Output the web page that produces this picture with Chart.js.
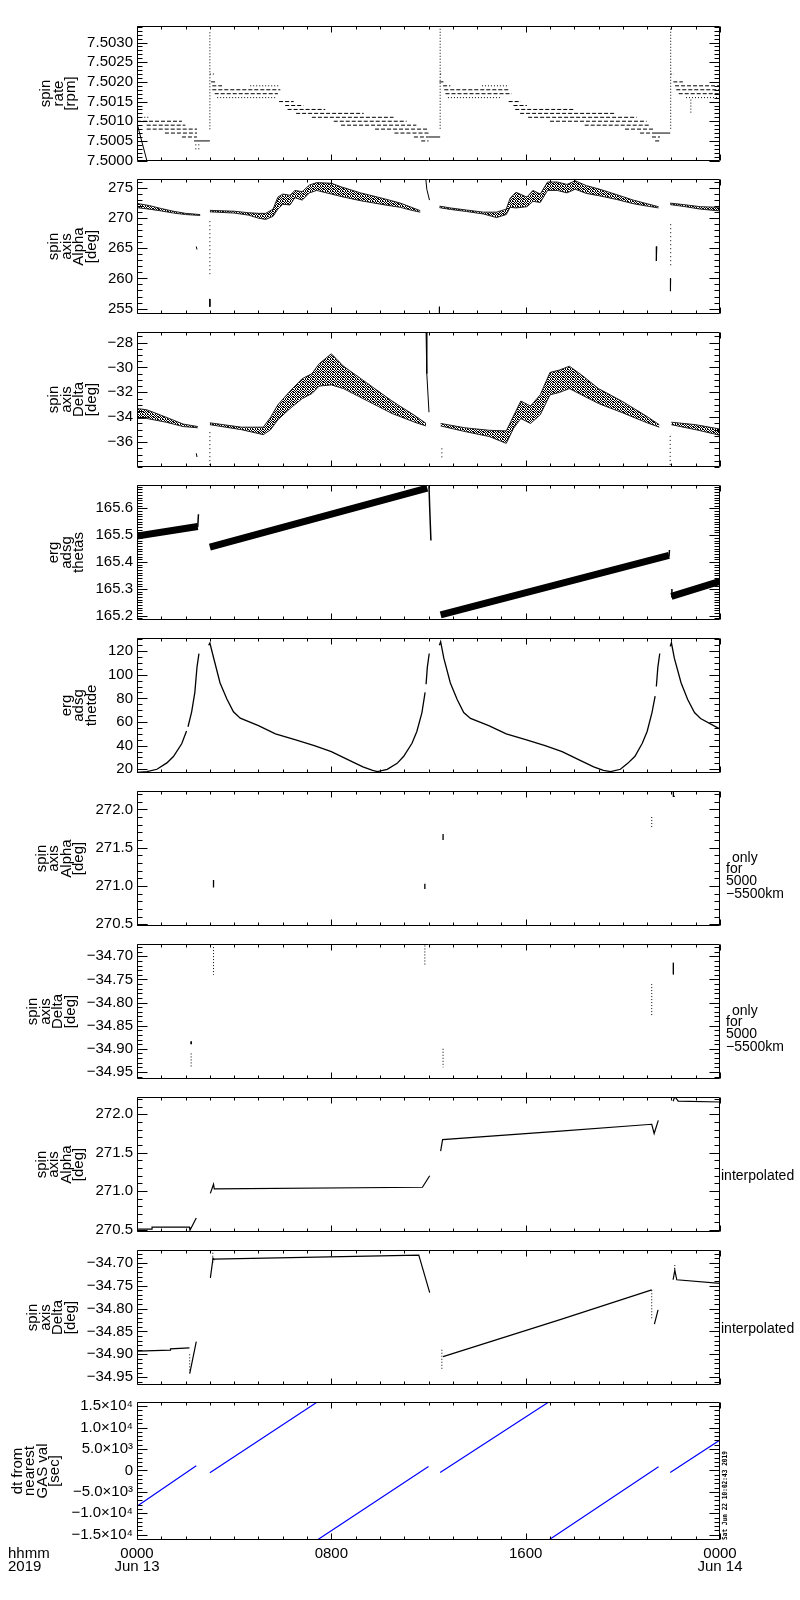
<!DOCTYPE html>
<html>
<head>
<meta charset="utf-8">
<script src="https://cdn.jsdelivr.net/npm/chart.js@4.4.1/dist/chart.umd.min.js"></script>
<style>
  body { margin: 0; background: #fff; }
  #page { position: relative; width: 800px; height: 1600px; background: #fff; }
  #page canvas { position: absolute; left: 0; }
</style>
</head>
<body>
<div id="page"></div>
<script>
// ---- time axis (hours of Jun 13 2019) ----
const hourTicks = [0, 8, 16, 24];
const hourLabels = [['0000', 'Jun 13'], ['0800'], ['1600'], ['0000', 'Jun 14']];

// ---- panel 1: spin rate [rpm], quantized levels [tStart, tEnd, value] ----
const rateTicks = [7.5000, 7.5005, 7.5010, 7.5015, 7.5020, 7.5025, 7.5030];
const rateLabels = ['7.5000', '7.5005', '7.5010', '7.5015', '7.5020', '7.5025', '7.5030'];
const rateDashed = [
  [0.0, 1.85, 7.5010], [0.4, 1.99, 7.5009], [0.4, 2.47, 7.5008], [1.15, 2.47, 7.5007], [1.85, 2.47, 7.5006],
  [3.05, 3.3, 7.5020], [3.1, 3.5, 7.5019], [3.1, 5.9, 7.5018], [3.2, 5.8, 7.5017], [5.85, 6.45, 7.5015],
  [6.1, 6.85, 7.5014], [6.2, 7.75, 7.5013], [6.55, 9.33, 7.5012], [7.2, 10.56, 7.5011], [8.1, 11.1, 7.5010],
  [8.4, 11.5, 7.5009], [9.8, 12.0, 7.5008], [10.6, 12.07, 7.5007], [11.4, 12.0, 7.5006], [11.7, 12.0, 7.5005],
  [12.45, 12.7, 7.5020], [12.6, 12.9, 7.5019], [12.65, 15.36, 7.5018], [12.7, 15.43, 7.5017], [15.3, 15.8, 7.5015],
  [15.5, 16.05, 7.5014], [15.57, 18.04, 7.5013], [15.77, 19.68, 7.5012], [16.1, 20.57, 7.5011], [17.0, 20.98, 7.5010],
  [18.43, 21.12, 7.5009], [20.09, 21.26, 7.5008], [20.71, 21.2, 7.5007], [21.2, 21.53, 7.5006], [21.33, 21.54, 7.5005],
  [22.08, 22.47, 7.5020], [22.15, 24, 7.5019], [22.2, 24, 7.5018], [22.3, 24, 7.5017]
];
const rateDotted = [
  [0.3, 0.5, 7.5011], [2.4, 2.6, 7.5004], [2.4, 2.6, 7.5003],
  [3.0, 3.2, 7.5022], [4.66, 5.83, 7.5019], [3.3, 5.7, 7.5016],
  [12.48, 12.6, 7.5022], [14.2, 15.3, 7.5019], [12.8, 15.0, 7.5016],
  [21.97, 22.1, 7.5022], [22.6, 24, 7.5016]
];
const rateSolid = [[2.35, 3.0, 7.5005], [12.0, 12.48, 7.5006], [21.2, 21.95, 7.5007]];
const rateSpikes = [[3.0, 7.50326, 7.50078], [12.48, 7.50335, 7.5008], [21.97, 7.50335, 7.5008], [22.8, 7.50155, 7.5012]];
const rateRamp = [[0, 7.50095], [0.41, 7.49999]];

// ---- panel 2: spin axis Alpha [deg], bands [t, low, high] ----
const alphaTicks = [255, 260, 265, 270, 275];
const alphaLabels = ['255', '260', '265', '270', '275'];
const alphaBands = [
  [[0, 271.75, 272.45], [0.5, 271.5, 272.1], [1.0, 271.2, 271.6], [1.5, 270.85, 271.15], [2.0, 270.6, 270.8], [2.6, 270.45, 270.6]],
  [[3.0, 271.05, 271.3], [4.0, 270.85, 271.15], [4.6, 270.5, 270.9], [5.0, 270.0, 270.8], [5.3, 269.8, 270.8], [5.6, 270.3, 271.5],
   [5.8, 271.5, 273.5], [6.0, 272.3, 274.0], [6.3, 272.2, 273.8], [6.5, 273.4, 274.6], [6.8, 273.0, 274.4], [7.1, 274.2, 275.5],
   [7.4, 274.6, 275.9], [8.0, 274.0, 275.8], [8.4, 273.6, 275.2], [9.2, 272.9, 274.2], [10.2, 272.2, 273.2], [10.84, 271.8, 272.5],
   [11.3, 271.3, 271.8], [11.66, 271.0, 271.25]],
  [[12.45, 271.75, 272.0], [12.9, 271.45, 271.7], [13.57, 271.1, 271.35], [14.26, 270.7, 271.0], [14.8, 270.1, 271.0], [15.2, 270.6, 271.5],
   [15.36, 271.8, 273.3], [15.6, 271.7, 274.3], [16.05, 271.9, 273.5], [16.3, 272.8, 274.6], [16.6, 272.6, 274.0], [16.9, 274.6, 276.0],
   [17.3, 274.6, 276.0], [17.7, 274.2, 275.6], [18.04, 274.8, 276.2], [18.5, 274.1, 275.4], [19.05, 273.7, 274.8], [19.75, 273.1, 273.9],
   [20.43, 272.4, 273.0], [21.0, 272.0, 272.4], [21.47, 271.7, 271.9]],
  [[21.95, 272.25, 272.5], [22.5, 271.95, 272.25], [23.2, 271.5, 271.9], [24, 271.2, 271.8]]
];
const alphaMarks = [
  [[2.44, 265.3], [2.47, 264.8]], [[3.0, 256.6], [3.0, 255.3]], [[11.89, 276.5], [11.93, 274.8], [12.04, 273.0]],
  [[12.45, 255.3], [12.45, 254.3]], [[21.4, 265.3], [21.38, 262.9]], [[21.97, 260.0], [21.95, 258.5], [21.97, 257.9]]
];
const alphaDots = [[3.0, 269.5, 260.5], [21.97, 269.0, 262.0]];

// ---- panel 3: spin axis Delta [deg] ----
const deltaTicks = [-36, -34, -32, -30, -28];
const deltaLabels = ['\u221236', '\u221234', '\u221232', '\u221230', '\u221228'];
const deltaBands = [
  [[0, -34.1, -33.3], [0.4, -34.1, -33.4], [1.2, -34.4, -34.0], [1.9, -34.75, -34.55], [2.5, -34.85, -34.75]],
  [[3.0, -34.6, -34.45], [4.3, -35.0, -34.8], [5.2, -35.4, -34.8], [5.5, -35.0, -34.0], [5.8, -34.2, -33.0], [6.3, -33.3, -31.9],
   [6.8, -32.5, -30.9], [7.2, -32.1, -30.5], [7.5, -31.5, -29.7], [8.0, -31.4, -28.9], [8.5, -31.7, -29.9], [9.5, -32.7, -31.3],
   [10.5, -33.7, -32.7], [11.5, -34.45, -33.95], [11.9, -34.7, -34.5]],
  [[12.5, -34.7, -34.5], [13.5, -35.15, -34.85], [14.5, -35.55, -35.05], [15.2, -36.1, -35.1], [15.5, -34.9, -33.9], [15.8, -34.1, -32.7],
   [16.2, -34.5, -33.1], [16.6, -33.8, -32.2], [17.0, -32.2, -30.4], [17.4, -32.0, -30.2], [17.8, -31.7, -29.9], [18.3, -32.2, -30.6],
   [19.0, -32.9, -31.7], [20.0, -33.65, -32.75], [21.0, -34.45, -33.95], [21.5, -34.8, -34.6]],
  [[22.0, -34.6, -34.4], [23.0, -35.0, -34.6], [24.0, -35.45, -34.95]]
];
const deltaMarks = [[[11.9, -27.15], [11.93, -30.5], [12.02, -33.6]], [[2.44, -36.9], [2.47, -37.2]]];
const deltaDots = [[3.0, -35.2, -37.9], [12.55, -36.5, -37.3], [21.95, -35.5, -37.9]];

// ---- panel 4: erg adsg thetas ----
const thetasTicks = [165.2, 165.3, 165.4, 165.5, 165.6];
const thetasLabels = ['165.2', '165.3', '165.4', '165.5', '165.6'];
const thetasPaths = [
  [[0, 165.497], [2.5, 165.532]],
  [[3.0, 165.455], [11.95, 165.675]],
  [[12.5, 165.203], [21.9, 165.425]],
  [[22.0, 165.272], [24, 165.328]]
];
const thetasMarks = [
  [[2.5, 165.53], [2.53, 165.578]], [[12.02, 165.685], [12.05, 165.6], [12.1, 165.48]],
  [[21.9, 165.42], [21.92, 165.445]], [[22.0, 165.27], [22.02, 165.3]]
];

// ---- panel 5: erg adsg thetde ----
const thetdeTicks = [20, 40, 60, 80, 100, 120];
const thetdeLabels = ['20', '40', '60', '80', '100', '120'];
const thetdePaths = [
  [[0, 17.3], [0.41, 18], [0.82, 20], [1.23, 25.4], [1.5, 30.8], [1.84, 41.6], [2.04, 52.4]],
  [[2.1, 56], [2.25, 68.6], [2.38, 84.9], [2.47, 106.5], [2.55, 117.8]],
  [[2.95, 125], [3.0, 126.8], [3.15, 114.6], [3.42, 93], [3.7, 79.5], [3.97, 68.6], [4.25, 63.2], [5.0, 57], [5.7, 50],
   [6.5, 45], [7.3, 40], [8.0, 35], [8.7, 28], [9.3, 22], [9.7, 19], [9.9, 18], [10.3, 20], [10.71, 25], [10.98, 31],
   [11.32, 42], [11.52, 52], [11.73, 68], [11.86, 85]],
  [[11.9, 92], [11.95, 106], [12.03, 118]],
  [[12.45, 125], [12.5, 128], [12.63, 114], [12.9, 93], [13.18, 79], [13.45, 68], [13.73, 63], [14.48, 57], [15.2, 50],
   [16.0, 45], [16.8, 40], [17.5, 35], [18.2, 28], [18.8, 22], [19.2, 19], [19.5, 18], [19.9, 20], [20.2, 25], [20.5, 31],
   [20.8, 42], [21.0, 52], [21.2, 68], [21.33, 82]],
  [[21.38, 90], [21.44, 106], [21.52, 118]],
  [[21.95, 124], [22.0, 127], [22.12, 114], [22.4, 93], [22.67, 79], [22.95, 68], [23.2, 63], [24, 54]]
];

// ---- panels 6/7: only for 5000-5500 km ----
const alphaSelTicks = [270.5, 271.0, 271.5, 272.0];
const alphaSelLabels = ['270.5', '271.0', '271.5', '272.0'];
const alphaSelMarks = [
  [[0, 270.49], [0.45, 270.49]], [[3.15, 271.08], [3.15, 270.98]], [[11.85, 271.03], [11.85, 270.96]],
  [[12.6, 271.68], [12.6, 271.6]], [[22.08, 272.25], [22.08, 272.17], [22.14, 272.17]]
];
const alphaSelDots = [[21.19, 271.9, 271.75]];
const deltaSelTicks = [-34.95, -34.90, -34.85, -34.80, -34.75, -34.70];
const deltaSelLabels = ['\u221234.95', '\u221234.90', '\u221234.85', '\u221234.80', '\u221234.75', '\u221234.70'];
const deltaSelMarks = [[[2.23, -34.884], [2.23, -34.89]], [[22.08, -34.714], [22.08, -34.739]]];
const deltaSelDots = [[3.15, -34.68, -34.74], [2.23, -34.91, -34.94], [21.19, -34.76, -34.83], [11.85, -34.67, -34.72], [12.6, -34.90, -34.94]];

// ---- panels 8/9: interpolated ----
const alphaIntPaths = [
  [[0, 270.505], [0.62, 270.505], [0.62, 270.53], [2.16, 270.53], [2.18, 270.49], [2.44, 270.65]],
  [[3.02, 270.97], [3.15, 271.09], [3.18, 271.03], [11.75, 271.05], [12.05, 271.2]],
  [[12.5, 271.52], [12.58, 271.67], [17.42, 271.78], [21.19, 271.87], [21.29, 271.75], [21.46, 271.92]],
  [[22.07, 272.17], [22.14, 272.23], [22.28, 272.17], [24, 272.16]]
];
const deltaIntPaths = [
  [[0, -34.893], [1.37, -34.891], [1.38, -34.888], [2.16, -34.886]],
  [[2.17, -34.942], [2.44, -34.872]],
  [[3.02, -34.733], [3.13, -34.69], [3.16, -34.692], [11.6, -34.683], [12.05, -34.765]],
  [[12.6, -34.905], [17.42, -34.824], [21.19, -34.759]],
  [[21.3, -34.834], [21.45, -34.803]],
  [[22.07, -34.737], [22.14, -34.716], [22.22, -34.737], [24, -34.745]]
];
const deltaIntDots = [[2.17, -34.9, -34.94], [3.12, -34.678, -34.7], [12.55, -34.89, -34.935], [21.19, -34.76, -34.825], [22.14, -34.705, -34.716]];

// ---- panel 10: dt from nearest GAS val [sec] ----
const dtTicks = [-15000, -10000, -5000, 0, 5000, 10000, 15000];
const dtLabels = ['\u22121.5\u00d710\u2074', '\u22121.0\u00d710\u2074', '\u22125.0\u00d710\u00b3', '0', '5.0\u00d710\u00b3', '1.0\u00d710\u2074', '1.5\u00d710\u2074'];
const dtPaths = [
  [[0, -8340], [2.44, 1070]],
  [[3.0, -535], [7.42, 15960]],
  [[7.42, -16220], [12.0, 900]],
  [[12.48, -500], [16.95, 15960]],
  [[16.95, -16220], [21.47, 842]],
  [[21.95, -460], [24, 7117]]
];
const stampText = 'Sat Jun 22 10:02:43 2019';

// ---------------------------------------------------------------
Chart.defaults.font.family = '"Liberation Sans", Arial, sans-serif';
Chart.defaults.color = '#000';

function gapJoin(paths) {
  const out = [];
  paths.forEach(p => {
    p.forEach(([x, y]) => out.push({ x, y }));
    out.push({ x: p[p.length - 1][0], y: null });
  });
  return out;
}
const levels = segs => gapJoin(segs.map(([a, b, v]) => [[a, v], [b, v]]));
const vbars = bars => gapJoin(bars.map(([t, a, b]) => [[t, a], [t, b]]));

// speckled fill for the noisy attitude clouds
function speckle() {
  const c = document.createElement('canvas');
  c.width = 5; c.height = 5;
  const g = c.getContext('2d');
  g.fillStyle = '#000';
  [[0, 0], [2, 0], [3, 0], [1, 1], [4, 1], [0, 2], [2, 2], [3, 2], [1, 3], [3, 3], [4, 3], [0, 4], [2, 4]]
    .forEach(([px, py]) => g.fillRect(px, py, 1, 1));
  return g.createPattern(c, 'repeat');
}
const SPECKLE = speckle();

function line(data, o) {
  return Object.assign({ data, borderColor: '#000', borderWidth: 1, pointRadius: 0, fill: false, tension: 0, spanGaps: false }, o || {});
}
function bands(list) {
  const sets = [];
  list.forEach(rows => {
    sets.push(line(rows.map(r => ({ x: r[0], y: r[1] })), { borderColor: '#222' }));
    sets.push(line(rows.map(r => ({ x: r[0], y: r[2] })), { borderColor: '#222', fill: '-1', backgroundColor: SPECKLE }));
  });
  return sets;
}
const DOT = [1, 2];

const titleAlpha = ['spin', 'axis', 'Alpha', '[deg]'];
const titleDelta = ['spin', 'axis', 'Delta', '[deg]'];
const noteRange = ['only', 'for', '5000', '\u22125500km'];

const panels = [
  { title: ['spin', 'rate', '[rpm]'], min: 7.49999, max: 7.50342, ticks: rateTicks, labels: rateLabels, minor: 0.0001,
    sets: [line(levels(rateDashed), { borderDash: [4, 2] }), line(levels(rateDotted), { borderDash: DOT }),
           line(levels(rateSolid)), line(vbars(rateSpikes), { borderDash: DOT }), line(gapJoin([rateRamp]))] },
  { title: titleAlpha, min: 254.1, max: 276.5, ticks: alphaTicks, labels: alphaLabels, minor: 1,
    sets: bands(alphaBands).concat([line(gapJoin(alphaMarks)), line(vbars(alphaDots), { borderDash: [1, 3] })]) },
  { title: titleDelta, min: -38.0, max: -27.15, ticks: deltaTicks, labels: deltaLabels, minor: 0.5,
    sets: bands(deltaBands).concat([line(gapJoin(deltaMarks)), line(vbars(deltaDots), { borderDash: [1, 3] })]) },
  { title: ['erg', 'adsg', 'thetas'], min: 165.1843, max: 165.6866, ticks: thetasTicks, labels: thetasLabels, minor: 0.01,
    sets: [line(gapJoin(thetasPaths), { borderWidth: 7 }), line(gapJoin(thetasMarks), { borderWidth: 1.5 })] },
  { title: ['erg', 'adsg', 'thetde'], min: 16.84, max: 131.1, ticks: thetdeTicks, labels: thetdeLabels, minor: 5,
    sets: [line(gapJoin(thetdePaths), { borderWidth: 1.3 })] },
  { title: titleAlpha, min: 270.478, max: 272.24, ticks: alphaSelTicks, labels: alphaSelLabels, minor: 0.1, note: 'range',
    sets: [line(gapJoin(alphaSelMarks), { borderWidth: 1.3 }), line(vbars(alphaSelDots), { borderDash: DOT })] },
  { title: titleDelta, min: -34.9653, max: -34.6733, ticks: deltaSelTicks, labels: deltaSelLabels, minor: 0.01, note: 'range',
    sets: [line(gapJoin(deltaSelMarks)), line(vbars(deltaSelDots), { borderDash: DOT })] },
  { title: titleAlpha, min: 270.4675, max: 272.225, ticks: alphaSelTicks, labels: alphaSelLabels, minor: 0.1, note: 'interp',
    sets: [line(gapJoin(alphaIntPaths), { borderWidth: 1.2 })] },
  { title: titleDelta, min: -34.967, max: -34.672, ticks: deltaSelTicks, labels: deltaSelLabels, minor: 0.01, note: 'interp',
    sets: [line(gapJoin(deltaIntPaths), { borderWidth: 1.2 }), line(vbars(deltaIntDots), { borderDash: DOT })] },
  { title: ['dt from', 'nearest', 'GAS val', '[sec]'], min: -16220, max: 15964, ticks: dtTicks, labels: dtLabels, minor: 1000, bottom: true,
    sets: [line(gapJoin(dtPaths), { borderColor: '#0000ff', borderWidth: 1.2 })] }
];

function frame(p) {
  return {
    id: 'idlFrame',
    afterDatasetsDraw(chart) {
      const { ctx, chartArea: a } = chart;
      const x = chart.scales.x, y = chart.scales.y;
      const L = Math.round(a.left) + 0.5, R = Math.round(a.right) - 0.5;
      const T = Math.round(a.top) + 0.5, B = Math.round(a.bottom) - 0.5;
      ctx.save();
      ctx.strokeStyle = '#000';
      ctx.lineWidth = 1;
      ctx.beginPath();
      ctx.rect(L, T, R - L, B - T);
      for (let h = 0; h <= 24; h++) {
        const px = Math.round(x.getPixelForValue(h)) + 0.5;
        const len = h % 8 === 0 ? 6 : 3;
        ctx.moveTo(px, B); ctx.lineTo(px, B - len);
        ctx.moveTo(px, T); ctx.lineTo(px, T + len);
      }
      const k0 = Math.ceil(p.min / p.minor - 1e-6), k1 = Math.floor(p.max / p.minor + 1e-6);
      for (let k = k0; k <= k1; k++) {
        const py = Math.round(y.getPixelForValue(k * p.minor)) + 0.5;
        ctx.moveTo(L, py); ctx.lineTo(L + 5, py);
        ctx.moveTo(R, py); ctx.lineTo(R - 5, py);
      }
      p.ticks.forEach(v => {
        const py = Math.round(y.getPixelForValue(v)) + 0.5;
        ctx.moveTo(L, py); ctx.lineTo(L + 10, py);
        ctx.moveTo(R, py); ctx.lineTo(R - 10, py);
      });
      ctx.stroke();

      // multi-line rotated axis title
      ctx.fillStyle = '#000';
      ctx.font = '15px "Liberation Sans"';
      const w = Math.max(...p.labels.map(s => ctx.measureText(s).width));
      const lastX = a.left - 4 - w - 12;
      const cy = (a.top + a.bottom) / 2;
      ctx.textAlign = 'center';
      ctx.textBaseline = 'alphabetic';
      p.title.forEach((s, i) => {
        ctx.save();
        ctx.translate(lastX - (p.title.length - 1 - i) * 12.5, cy);
        ctx.rotate(-Math.PI / 2);
        ctx.fillText(s, 0, 0);
        ctx.restore();
      });

      // right-hand notes
      ctx.font = '14px "Liberation Sans"';
      ctx.textAlign = 'left';
      ctx.textBaseline = 'middle';
      if (p.note === 'range') {
        const dx = [7, 1, 1, 1], dy = [67.5, 78.5, 90, 103];
        noteRange.forEach((s, i) => ctx.fillText(s, a.right + 5 + dx[i], a.top + dy[i]));
      } else if (p.note === 'interp') {
        ctx.fillText('interpolated', a.right + 1, a.top + 79);
      }

      if (p.bottom) {
        ctx.font = '15px "Liberation Sans"';
        ctx.fillText('hhmm', 8, a.bottom + 14);
        ctx.fillText('2019', 8, a.bottom + 27);
        ctx.save();
        ctx.font = 'bold 7px "DejaVu Sans Mono"';
        ctx.textBaseline = 'alphabetic';
        ctx.translate(a.right + 7, a.bottom);
        ctx.rotate(-Math.PI / 2);
        ctx.fillText(stampText, 0, 0, 89);
        ctx.restore();
      }
      ctx.restore();
    }
  };
}

const page = document.getElementById('page');
panels.forEach((p, i) => {
  const top = Math.round(23.3 + 152.9 * i);
  const h = p.bottom ? 196 : 161;
  const cv = document.createElement('canvas');
  cv.width = 800;
  cv.height = h;
  cv.style.top = (top - 10) + 'px';
  cv.style.width = '800px';
  cv.style.height = h + 'px';
  page.appendChild(cv);

  const xScale = {
    type: 'linear', min: 0, max: 24, display: !!p.bottom,
    afterBuildTicks: s => { s.ticks = hourTicks.map(v => ({ value: v })); },
    afterFit: s => {
      s.paddingLeft = 0; s.paddingRight = 0;
      s.height = p.bottom ? 45 : 0;
    },
    grid: { display: false, drawTicks: false },
    border: { display: false },
    ticks: { autoSkip: false, maxRotation: 0, minRotation: 0, padding: 7, color: '#000',
             font: { size: 15, lineHeight: 0.87 }, callback: (v, k) => hourLabels[k] }
  };

  new Chart(cv, {
    type: 'line',
    data: { datasets: p.sets },
    options: {
      responsive: false,
      animation: false,
      events: [],
      layout: { padding: { left: 0, right: 80, top: 10, bottom: p.bottom ? 0 : 10 } },
      plugins: { legend: { display: false }, tooltip: { enabled: false } },
      scales: {
        x: xScale,
        y: {
          type: 'linear', min: p.min, max: p.max,
          afterBuildTicks: s => { s.ticks = p.ticks.map(v => ({ value: v })); },
          afterFit: s => { s.width = 137; },
          grid: { display: false, drawTicks: false },
          border: { display: false },
          ticks: { autoSkip: false, padding: 4, color: '#000', font: { size: 15 }, callback: (v, k) => p.labels[k] }
        }
      }
    },
    plugins: [frame(p)]
  });
});
</script>
</body>
</html>
